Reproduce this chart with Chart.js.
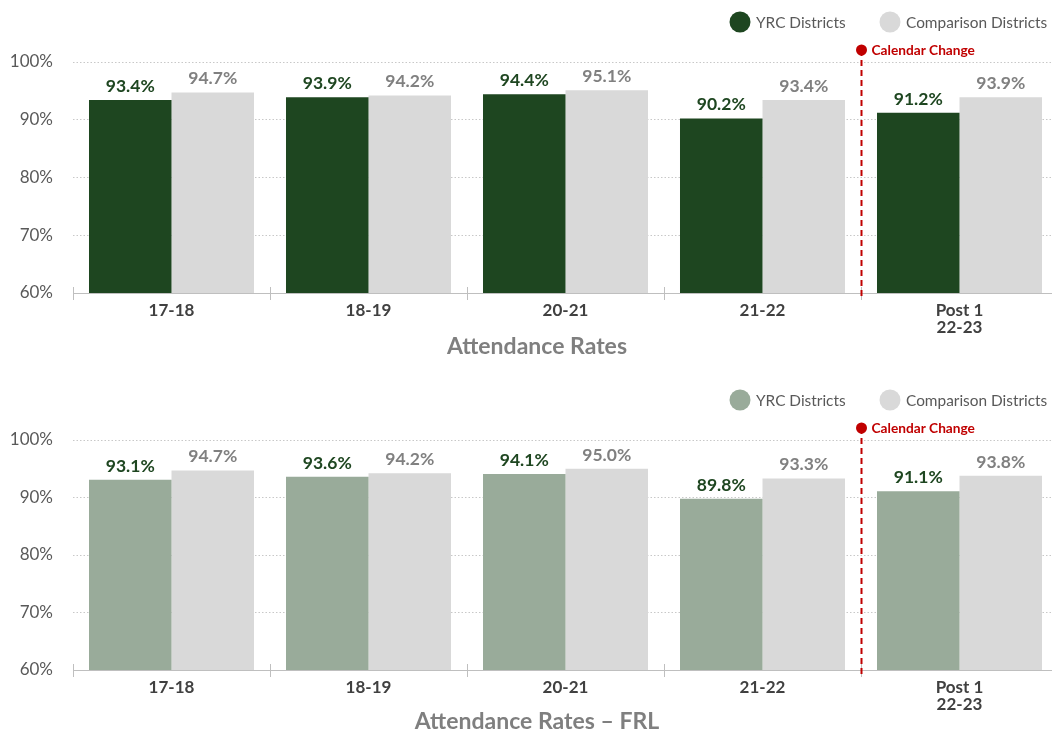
<!DOCTYPE html>
<html>
<head>
<meta charset="utf-8">
<script src="https://cdn.jsdelivr.net/npm/chart.js@4.4.1/dist/chart.umd.min.js"></script>
<style>
  html, body { margin: 0; padding: 0; background: #ffffff; overflow: hidden; width: 1052px; height: 736px; }
  .box { position: absolute; left: 0; width: 1060px; }
  #top { top: 0; height: 370px; }
  #bot { top: 378px; height: 358px; }
</style>
</head>
<body>
<div class="box" id="top"><canvas id="c1"></canvas></div>
<div class="box" id="bot"><canvas id="c2"></canvas></div>
<script>
const categories = ['17-18', '18-19', '20-21', '21-22', ['Post 1', '22-23']];
const yTickLabels = ['60%', '70%', '80%', '90%', '100%'];
const seriesNames = ['YRC Districts', 'Comparison Districts'];
const yrcAll = [93.4, 93.9, 94.4, 90.2, 91.2];
const compAll = [94.7, 94.2, 95.1, 93.4, 93.9];
const yrcFRL = [93.1, 93.6, 94.1, 89.8, 91.1];
const compFRL = [94.7, 94.2, 95.0, 93.3, 93.8];
const titles = ['Attendance Rates', 'Attendance Rates \u2013 FRL'];
const markerLabel = 'Calendar Change';
const markerAfterIndex = 3;

const FONT = 'Lato, "Open Sans", "Noto Sans", sans-serif';
const DARK_GREEN = '#1e4620';
const LIGHT_GREEN = '#99ab9a';
const GRAY = '#d9d9d9';
const RED = '#c00000';

const overlay = {
  id: 'overlay',
  afterDatasetsDraw(chart, args, opts) {
    const ctx = chart.ctx;
    const ca = chart.chartArea;
    const x = chart.scales.x;
    const n = chart.data.labels.length;
    const boundary = i => {
      if (i === 0) return ca.left;
      if (i === n) return ca.right;
      return (x.getPixelForTick(i - 1) + x.getPixelForTick(i)) / 2;
    };
    ctx.save();
    // category boundary tick marks
    ctx.strokeStyle = '#bfbfbf';
    ctx.lineWidth = 1;
    for (let i = 0; i <= n; i++) {
      const bx = Math.round(boundary(i)) + 0.5;
      ctx.beginPath();
      ctx.moveTo(bx, ca.bottom - 6);
      ctx.lineTo(bx, ca.bottom + 7);
      ctx.stroke();
    }
    // data labels
    chart.data.datasets.forEach((ds, di) => {
      const meta = chart.getDatasetMeta(di);
      ctx.font = 'bold 17.5px ' + FONT;
      ctx.fillStyle = di === 0 ? DARK_GREEN : '#808080';
      ctx.textAlign = 'center';
      ctx.textBaseline = 'bottom';
      meta.data.forEach((bar, i) => {
        ctx.fillText(ds.data[i].toFixed(1) + '%', bar.x, bar.y - 5);
      });
    });
    // calendar change marker
    const mx = Math.round(boundary(markerAfterIndex + 1)) + 0.5;
    const my = 50;
    ctx.strokeStyle = RED;
    ctx.lineWidth = 2;
    ctx.setLineDash([6, 4]);
    ctx.beginPath();
    ctx.moveTo(mx, my);
    ctx.lineTo(mx, ca.bottom + 6);
    ctx.stroke();
    ctx.setLineDash([]);
    ctx.fillStyle = RED;
    ctx.beginPath();
    ctx.arc(mx, my, 5.5, 0, Math.PI * 2);
    ctx.fill();
    ctx.font = 'bold 13.7px ' + FONT;
    ctx.textAlign = 'left';
    ctx.textBaseline = 'middle';
    ctx.fillText(markerLabel, mx + 10, my + 1);
    // legend
    const legendItems = [
      { x: 740, color: chart.data.datasets[0].backgroundColor, text: chart.data.datasets[0].label },
      { x: 890, color: chart.data.datasets[1].backgroundColor, text: chart.data.datasets[1].label }
    ];
    ctx.font = '15.4px ' + FONT;
    legendItems.forEach(it => {
      ctx.fillStyle = it.color;
      ctx.beginPath();
      ctx.arc(it.x, 22, 10.5, 0, Math.PI * 2);
      ctx.fill();
      ctx.fillStyle = '#595959';
      ctx.textAlign = 'left';
      ctx.textBaseline = 'middle';
      ctx.fillText(it.text, it.x + 16, 23);
    });
    // title
    ctx.font = 'bold 23px ' + FONT;
    ctx.fillStyle = '#7f7f7f';
    ctx.textAlign = 'center';
    ctx.textBaseline = 'middle';
    ctx.fillText(opts.title, 537, ca.bottom + opts.titleOffset);
    ctx.restore();
  }
};

function makeChart(id, yrc, comp, yrcColor, title, xHeight, titleOffset) {
  return new Chart(document.getElementById(id), {
    type: 'bar',
    data: {
      labels: categories,
      datasets: [
        { label: seriesNames[0], data: yrc, backgroundColor: yrcColor },
        { label: seriesNames[1], data: comp, backgroundColor: GRAY }
      ]
    },
    options: {
      responsive: true,
      maintainAspectRatio: false,
      animation: false,
      layout: { padding: { top: 62, right: 2, left: 0, bottom: 0 } },
      datasets: { bar: { categoryPercentage: 0.8376, barPercentage: 1.0, borderWidth: 0 } },
      plugins: {
        legend: { display: false },
        title: { display: false },
        tooltip: { enabled: false },
        overlay: { title: title, titleOffset: titleOffset }
      },
      scales: {
        x: {
          grid: { display: false },
          border: { display: true, color: '#bfbfbf', width: 1 },
          ticks: {
            color: '#404040',
            font: { family: FONT, size: 17, weight: 'bold', lineHeight: 1.0 },
            padding: 1,
            maxRotation: 0,
            autoSkip: false
          },
          afterFit(scale) { scale.height = xHeight; }
        },
        y: {
          min: 60,
          max: 100,
          border: { display: false, dash: [1.5, 2] },
          grid: {
            color: ctx => (ctx.tick && ctx.tick.value === 60) ? 'rgba(0,0,0,0)' : '#c8c8c8',
            lineWidth: 1,
            drawTicks: false
          },
          ticks: {
            stepSize: 10,
            color: '#595959',
            padding: 20,
            font: { family: FONT, size: 17 },
            callback: (v) => yTickLabels[Math.round((v - 60) / 10)]
          },
          afterFit(scale) { scale.width = 73; }
        }
      }
    },
    plugins: [overlay]
  });
}

Chart.defaults.font.family = FONT;
makeChart('c1', yrcAll, compAll, DARK_GREEN, titles[0], 77, 54);
makeChart('c2', yrcFRL, compFRL, LIGHT_GREEN, titles[1], 66, 52);
</script>
</body>
</html>
